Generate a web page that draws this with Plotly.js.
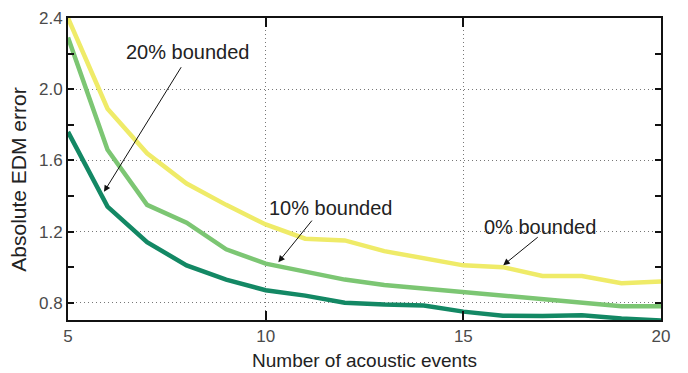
<!DOCTYPE html>
<html>
<head>
<meta charset="utf-8">
<script src="https://cdn.plot.ly/plotly-3.0.1.min.js"></script>
<style>html,body{margin:0;padding:0;background:#fff}#chart{width:688px;height:373px}</style>
</head>
<body>
<div id="chart"></div>
<script>
var events = [5, 6, 7, 8, 9, 10, 11, 12, 13, 14, 15, 16, 17, 18, 19, 20];
var bounded0 = [2.40, 1.89, 1.64, 1.47, 1.35, 1.24, 1.16, 1.15, 1.09, 1.05, 1.01, 1.00, 0.95, 0.95, 0.91, 0.92];
var bounded10 = [2.29, 1.66, 1.35, 1.25, 1.10, 1.02, 0.975, 0.93, 0.90, 0.88, 0.855, 0.835, 0.815, 0.795, 0.78, 0.78];
var bounded20 = [1.76, 1.34, 1.14, 1.01, 0.93, 0.87, 0.84, 0.80, 0.79, 0.785, 0.75, 0.727, 0.726, 0.73, 0.712, 0.70];
var seriesNames = ['0% bounded', '10% bounded', '20% bounded'];
var xTicks = [5, 10, 15, 20];
var yTicks = [0.8, 1.2, 1.6, 2.0, 2.4];

var colors = ['#efeb68', '#7cc673', '#138864'];
var data = [bounded0, bounded10, bounded20].map(function (v, i) {
  return {x: events, y: v, type: 'scatter', mode: 'lines', name: seriesNames[i],
          line: {color: colors[i], width: 4.5}};
});

function arrow(tipX, tipY, tailX, tailY) {
  return {x: tipX, y: tipY, ax: tailX, ay: tailY, xref: 'x', yref: 'y', axref: 'x', ayref: 'y',
          text: '', showarrow: true, arrowhead: 2, arrowsize: 1.3, arrowwidth: 1, arrowcolor: '#111'};
}
function label(txt, x, y) {
  return {x: x, y: y, xref: 'x', yref: 'y', text: txt, showarrow: false,
          font: {family: 'Liberation Sans, Arial, sans-serif', size: 20, color: '#222'}};
}

var layout = {
  width: 688, height: 373,
  margin: {l: 68, r: 27, t: 17.5, b: 53},
  paper_bgcolor: '#fff', plot_bgcolor: '#fff',
  showlegend: false,
  font: {family: 'Liberation Sans, Arial, sans-serif', size: 17, color: '#4a4a4a'},
  xaxis: {
    range: [5, 20], tickvals: xTicks, ticktext: xTicks.map(String),
    ticks: 'inside', ticklen: 9, tickwidth: 2, tickcolor: '#111',
    showline: true, linecolor: '#111', linewidth: 2, mirror: 'ticks',
    showgrid: true, gridcolor: '#777', griddash: '1px,3px', gridwidth: 1,
    zeroline: false,
    tickfont: {size: 17, color: '#4a4a4a'},
    title: {text: 'Number of acoustic events', font: {size: 19, color: '#222'}, standoff: 8}
  },
  yaxis: {
    range: [0.703, 2.4], tickvals: yTicks, ticktext: ['0.8', '1.2', '1.6', '2.0', '2.4'],
    ticks: 'inside', ticklen: 6, tickwidth: 2, tickcolor: '#111',
    minor: {tickvals: [1.0, 1.4, 1.8, 2.2], ticks: 'inside', ticklen: 6, tickwidth: 2, tickcolor: '#111', showgrid: false},
    showline: true, linecolor: '#111', linewidth: 2, mirror: 'ticks',
    showgrid: true, gridcolor: '#777', griddash: '1px,3px', gridwidth: 1,
    zeroline: false,
    tickfont: {size: 17, color: '#4a4a4a'}
  },
  annotations: [
    {xref: 'paper', yref: 'paper', x: -0.0826, y: 0.4645, xanchor: 'center', yanchor: 'middle',
     text: 'Absolute EDM error', textangle: -90, showarrow: false,
     font: {family: 'Liberation Sans, Arial, sans-serif', size: 21, color: '#222'}},
    label('20% bounded', 8.01, 2.21),
    label('10% bounded', 11.63, 1.332),
    label('0% bounded', 16.95, 1.225),
    arrow(5.91, 1.423, 7.886, 2.132),
    arrow(10.32, 1.028, 11.2, 1.27),
    arrow(16.01, 1.011, 16.92, 1.175)
  ]
};

Plotly.newPlot('chart', data, layout, {displayModeBar: false, staticPlot: true});
</script>
</body>
</html>
